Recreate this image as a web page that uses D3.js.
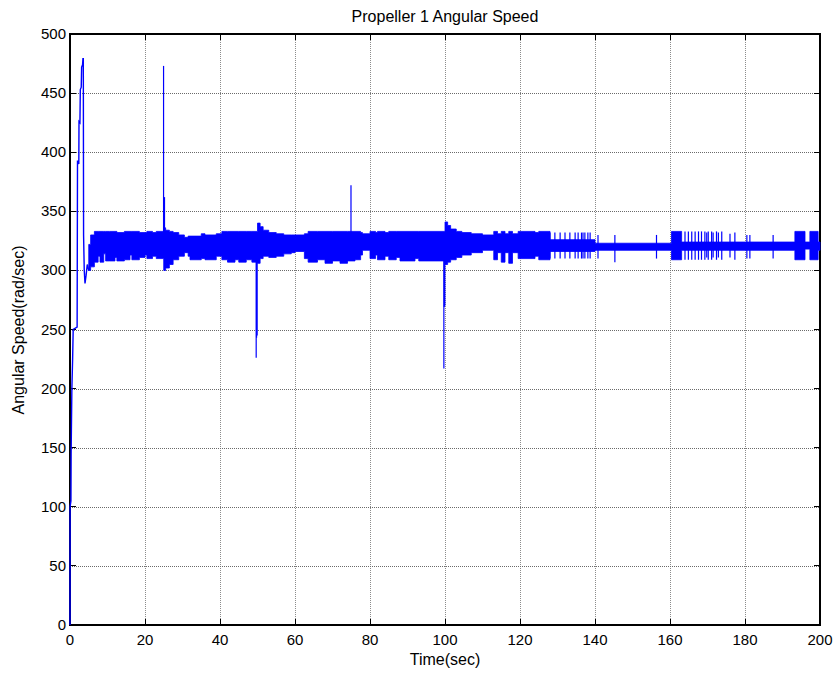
<!DOCTYPE html>
<html>
<head>
<meta charset="utf-8">
<script src="https://cdn.jsdelivr.net/npm/d3@7"></script>
<style>
  html, body { margin: 0; padding: 0; background: #fff; }
  svg { display: block; }
  text { font-family: "Liberation Sans", Arial, Helvetica, sans-serif; fill: #000; }
</style>
</head>
<body>
<svg id="chart" width="836" height="673"></svg>
<script>
// ---- axis ticks ----
const xTicks = [0, 20, 40, 60, 80, 100, 120, 140, 160, 180, 200];
const yTicks = [0, 50, 100, 150, 200, 250, 300, 350, 400, 450, 500];

// ---- start-up transient (time s, angular speed rad/s) ----
const startT = [0, 0.02, 0.25, 0.3, 0.5, 0.7, 0.85, 1.9, 2.0, 2.35, 2.4, 2.65, 2.75, 3.0, 3.1, 3.35, 3.45, 3.55, 3.62, 3.8, 4.0, 4.3, 4.6, 5.0];
const startV = [0, 100, 105, 145, 200, 225, 250, 252, 393, 390, 426, 425, 453, 455, 472, 474, 479, 479, 330, 300, 289, 296, 305, 300];

// ---- oscillation band envelope (step keypoints) ----
const bandT  = [5, 5.5, 6.5, 7.5, 8, 9, 9.5, 10.5, 12, 12.5, 14.5, 16, 16.5, 18.5, 20, 20.5, 22, 23,
                25, 25.5, 26.5, 27.5, 29, 30.5, 31.5, 32, 35, 36, 39, 40.5, 42, 44, 45, 47, 48.5,
                50, 50.7, 51.5, 53, 55, 57, 59, 60, 62.5, 63.5, 66, 68, 70, 72, 74, 76, 77.5, 78, 80,
                81.5, 82, 84, 85, 87, 88, 92, 93, 100, 100.7, 101.5, 103, 104.5, 107, 110, 113, 114,
                115, 116, 117, 118, 119.5, 124, 125, 128, 140, 160.4, 163.1, 173.3, 193.3, 196, 197.3, 199.5, 200];
const bandLo = [300, 303, 307, 312, 307, 314, 308, 308, 311, 308, 309, 313, 309, 311, 313, 310, 312, 310,
                300, 302, 305, 309, 312, 315, 312, 309, 310, 309, 312, 309, 307, 309, 307, 309, 307,
                306, 310, 312, 311, 312, 314, 315, 316, 310, 307, 309, 306, 308, 306, 308, 309, 313, 317, 310,
                313, 309, 312, 309, 311, 308, 310, 308, 305, 307, 309, 311, 313, 315, 317, 309, 315,
                307, 315, 306, 315, 310, 312, 309, 316, 317, 309, 317, 317, 309, 318, 309, 317, 317];
const bandHi = [322, 330, 333, 333, 333, 333, 333, 333, 333, 332, 333, 333, 333, 332, 332, 333, 332, 333,
                336, 334, 333, 332, 330, 328, 329, 329, 331, 330, 331, 333, 333, 333, 333, 333, 333,
                340, 337, 334, 332, 331, 330, 330, 330, 331, 333, 333, 333, 333, 333, 333, 333, 332, 331, 333,
                332, 333, 332, 333, 333, 333, 333, 333, 341, 338, 335, 333, 332, 331, 330, 333, 331,
                333, 331, 333, 331, 333, 332, 333, 326, 323, 333, 324, 324, 333, 324, 333, 324, 324];

// ---- isolated switching strokes in the calmer stretches ----
const toggleT  = [128, 129.3, 130.7, 132, 133.3, 134.7, 135.5, 136.4, 136.8, 137.3, 138.1, 138.7, 140.8, 145.3, 156.4,
                  164, 164.9, 165.8, 166.7, 167.6, 168.4, 169.3, 169.8, 170.2, 171.1, 171.5, 172.4, 172.9, 173.8,
                  176, 177.3, 180.5, 181.3, 187.5];
const toggleLo = [310, 310, 310, 310, 310, 310, 310, 310, 310, 310, 310, 310, 310, 307, 310,
                  309, 309, 309, 309, 309, 309, 309, 311, 309, 309, 311, 309, 311, 309,
                  311, 309, 310, 310, 310];
const toggleHi = [332, 332, 332, 332, 332, 332, 332, 332, 332, 332, 332, 332, 330, 330, 330,
                  333, 333, 333, 333, 333, 333, 333, 332, 333, 333, 332, 333, 332, 333,
                  331, 332, 330, 330, 330];

// ---- disturbance spikes (time, from, to) ----
const spikeT    = [24.95, 25.05, 25.2, 49.65, 49.75, 49.9, 74.93, 99.7, 99.8, 99.95];
const spikeFrom = [320, 320, 300, 320, 320, 320, 325, 315, 315, 315];
const spikeTo   = [473, 330, 362, 226, 243, 245, 372, 217, 269, 270];

// ---- layout ----
const svg = d3.select("#chart");
const margin = { left: 70, right: 16, top: 34, bottom: 48 };
const W = 836, H = 673;
const x = d3.scaleLinear().domain([0, 200]).range([margin.left, W - margin.right]);
const y = d3.scaleLinear().domain([0, 500]).range([H - margin.bottom, margin.top]);
const blue = "#0000ff";

// grid
const grid = svg.append("g").attr("class", "grid");
grid.selectAll("line.v").data(xTicks.slice(1, -1)).join("line")
  .attr("x1", d => Math.round(x(d)) + 0.5).attr("x2", d => Math.round(x(d)) + 0.5)
  .attr("y1", y(0)).attr("y2", y(500))
  .attr("stroke", "#8c8c8c").attr("stroke-width", 1).attr("stroke-dasharray", "1,1");
grid.selectAll("line.h").data(yTicks.slice(1, -1)).join("line")
  .attr("y1", d => Math.round(y(d)) + 0.5).attr("y2", d => Math.round(y(d)) + 0.5)
  .attr("x1", x(0)).attr("x2", x(200))
  .attr("stroke", "#6a6a6a").attr("stroke-width", 1).attr("stroke-dasharray", "1,1");

// axes (box with inward ticks on all four sides)
const tickLen = 6;
const axes = svg.append("g").attr("shape-rendering", "crispEdges");
axes.append("rect")
  .attr("x", x(0)).attr("y", y(500))
  .attr("width", x(200) - x(0)).attr("height", y(0) - y(500))
  .attr("fill", "none").attr("stroke", "#000").attr("stroke-width", 1.3);

axes.selectAll("line.xb").data(xTicks).join("line")
  .attr("x1", d => x(d)).attr("x2", d => x(d)).attr("y1", y(0)).attr("y2", y(0) - tickLen)
  .attr("stroke", "#000");
axes.selectAll("line.xt").data(xTicks).join("line")
  .attr("x1", d => x(d)).attr("x2", d => x(d)).attr("y1", y(500)).attr("y2", y(500) + tickLen)
  .attr("stroke", "#000");
axes.selectAll("line.yl").data(yTicks).join("line")
  .attr("y1", d => y(d)).attr("y2", d => y(d)).attr("x1", x(0)).attr("x2", x(0) + tickLen)
  .attr("stroke", "#000");
axes.selectAll("line.yr").data(yTicks).join("line")
  .attr("y1", d => y(d)).attr("y2", d => y(d)).attr("x1", x(200)).attr("x2", x(200) - tickLen)
  .attr("stroke", "#000");

// data (drawn over the axis box)
const plot = svg.append("g");
const bandData = bandT.map((t, i) => ({ t, lo: bandLo[i], hi: bandHi[i] }));
plot.append("path")
  .datum(bandData)
  .attr("d", d3.area().x(d => x(d.t)).y0(d => y(d.lo)).y1(d => y(d.hi)).curve(d3.curveStepAfter))
  .attr("fill", blue).attr("stroke", blue).attr("stroke-width", 0.8);

plot.selectAll("line.toggle").data(toggleT).join("line")
  .attr("x1", d => x(d)).attr("x2", d => x(d))
  .attr("y1", (d, i) => y(toggleLo[i])).attr("y2", (d, i) => y(toggleHi[i]))
  .attr("stroke", blue).attr("stroke-width", 1.2);

plot.selectAll("line.spike").data(spikeT).join("line")
  .attr("x1", d => x(d)).attr("x2", d => x(d))
  .attr("y1", (d, i) => y(spikeFrom[i])).attr("y2", (d, i) => y(spikeTo[i]))
  .attr("stroke", blue).attr("stroke-width", 1.2);

const startData = startT.map((t, i) => ({ t, v: startV[i] }));
plot.append("path")
  .datum(startData)
  .attr("d", d3.line().x(d => x(d.t)).y(d => y(d.v)))
  .attr("fill", "none").attr("stroke", blue).attr("stroke-width", 1.4);

// tick labels
svg.append("g").selectAll("text").data(xTicks).join("text")
  .attr("x", d => x(d)).attr("y", 645)
  .attr("text-anchor", "middle").attr("font-size", 15)
  .text(d => d);
svg.append("g").selectAll("text").data(yTicks).join("text")
  .attr("x", x(0) - 4).attr("y", d => y(d) + 5)
  .attr("text-anchor", "end").attr("font-size", 15)
  .text(d => d);

// titles
svg.append("text").attr("x", 445).attr("y", 22).attr("text-anchor", "middle")
  .attr("font-size", 16).text("Propeller 1 Angular Speed");
svg.append("text").attr("x", 445).attr("y", 665).attr("text-anchor", "middle")
  .attr("font-size", 16).text("Time(sec)");
svg.append("text").attr("transform", "translate(24,330) rotate(-90)").attr("text-anchor", "middle")
  .attr("font-size", 16).text("Angular Speed(rad/sec)");
</script>
</body>
</html>
